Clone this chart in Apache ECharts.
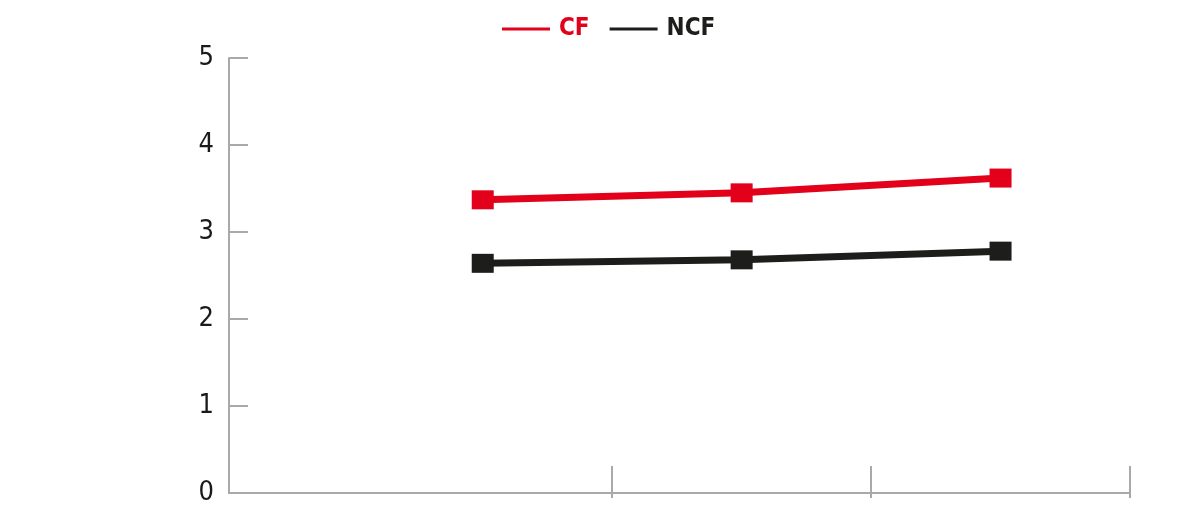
<!DOCTYPE html>
<html>
<head>
<meta charset="utf-8">
<style>
  html, body { margin: 0; padding: 0; background: #fff; }
  #chart { width: 1200px; height: 520px; }
</style>
<script src="https://cdn.jsdelivr.net/npm/echarts@6/dist/echarts.min.js"></script>
</head>
<body>
<div id="chart"></div>
<script>
// positions along the x axis (points sit between the ticks)
const xPositions = [1, 2, 3];
const xTicks     = [1.5, 2.5, 3.5];
const cfValues   = [3.37, 3.45, 3.62];
const ncfValues  = [2.64, 2.68, 2.78];
const yTicks     = [0, 1, 2, 3, 4, 5];

const RED   = "#e2001a";
const BLACK = "#1d1d1b";
const GREY  = "#a9a9a9";
const FONT  = "'Liberation Sans Narrow', 'DejaVu Sans Condensed', 'Roboto', sans-serif";

function pairs(values) {
  return values.map((v, i) => [xPositions[i], v]);
}

let chart = echarts.init(document.getElementById("chart"));

chart.setOption({
  animation: false,
  grid: { left: 229, right: 70, top: 58, bottom: 27 },
  legend: {
    left: 497,
    top: 12,
    icon: "rect",
    itemWidth: 48,
    itemHeight: 3,
    itemGap: 20,
    textStyle: { fontFamily: FONT, fontSize: 24, fontWeight: "bold", padding: [0, 0, 0, 4] },
    data: [
      { name: "CF", textStyle: { color: RED } },
      { name: "NCF", textStyle: { color: BLACK } },
    ],
  },
  xAxis: [
    {
      type: "value",
      min: 0.02,
      max: 3.5,
      axisLine: { show: true, lineStyle: { color: GREY, width: 2 } },
      axisTick: { show: true, inside: true, length: 27, customValues: xTicks, lineStyle: { color: GREY, width: 2 } },
      axisLabel: { show: false },
      splitLine: { show: false },
    },
    {
      type: "value",
      position: "bottom",
      min: 0.02,
      max: 3.5,
      axisLine: { show: false },
      axisTick: { show: true, inside: false, length: 5, customValues: xTicks, lineStyle: { color: GREY, width: 2 } },
      axisLabel: { show: false },
      splitLine: { show: false },
    },
  ],
  yAxis: {
    type: "value",
    min: 0,
    max: 5,
    interval: 1,
    axisLine: { show: true, lineStyle: { color: GREY, width: 2 } },
    axisTick: { show: true, inside: true, length: 19, customValues: yTicks, lineStyle: { color: GREY, width: 2 } },
    axisLabel: { margin: 15, color: "#1a1a1a", fontFamily: FONT, fontSize: 27, customValues: yTicks },
    splitLine: { show: false },
  },
  series: [
    {
      name: "CF",
      type: "line",
      data: pairs(cfValues),
      symbol: "rect",
      symbolSize: [22, 19],
      lineStyle: { color: RED, width: 7 },
      itemStyle: { color: RED },
    },
    {
      name: "NCF",
      type: "line",
      data: pairs(ncfValues),
      symbol: "rect",
      symbolSize: [22, 19],
      lineStyle: { color: BLACK, width: 7 },
      itemStyle: { color: BLACK },
    },
  ],
});
</script>
</body>
</html>
